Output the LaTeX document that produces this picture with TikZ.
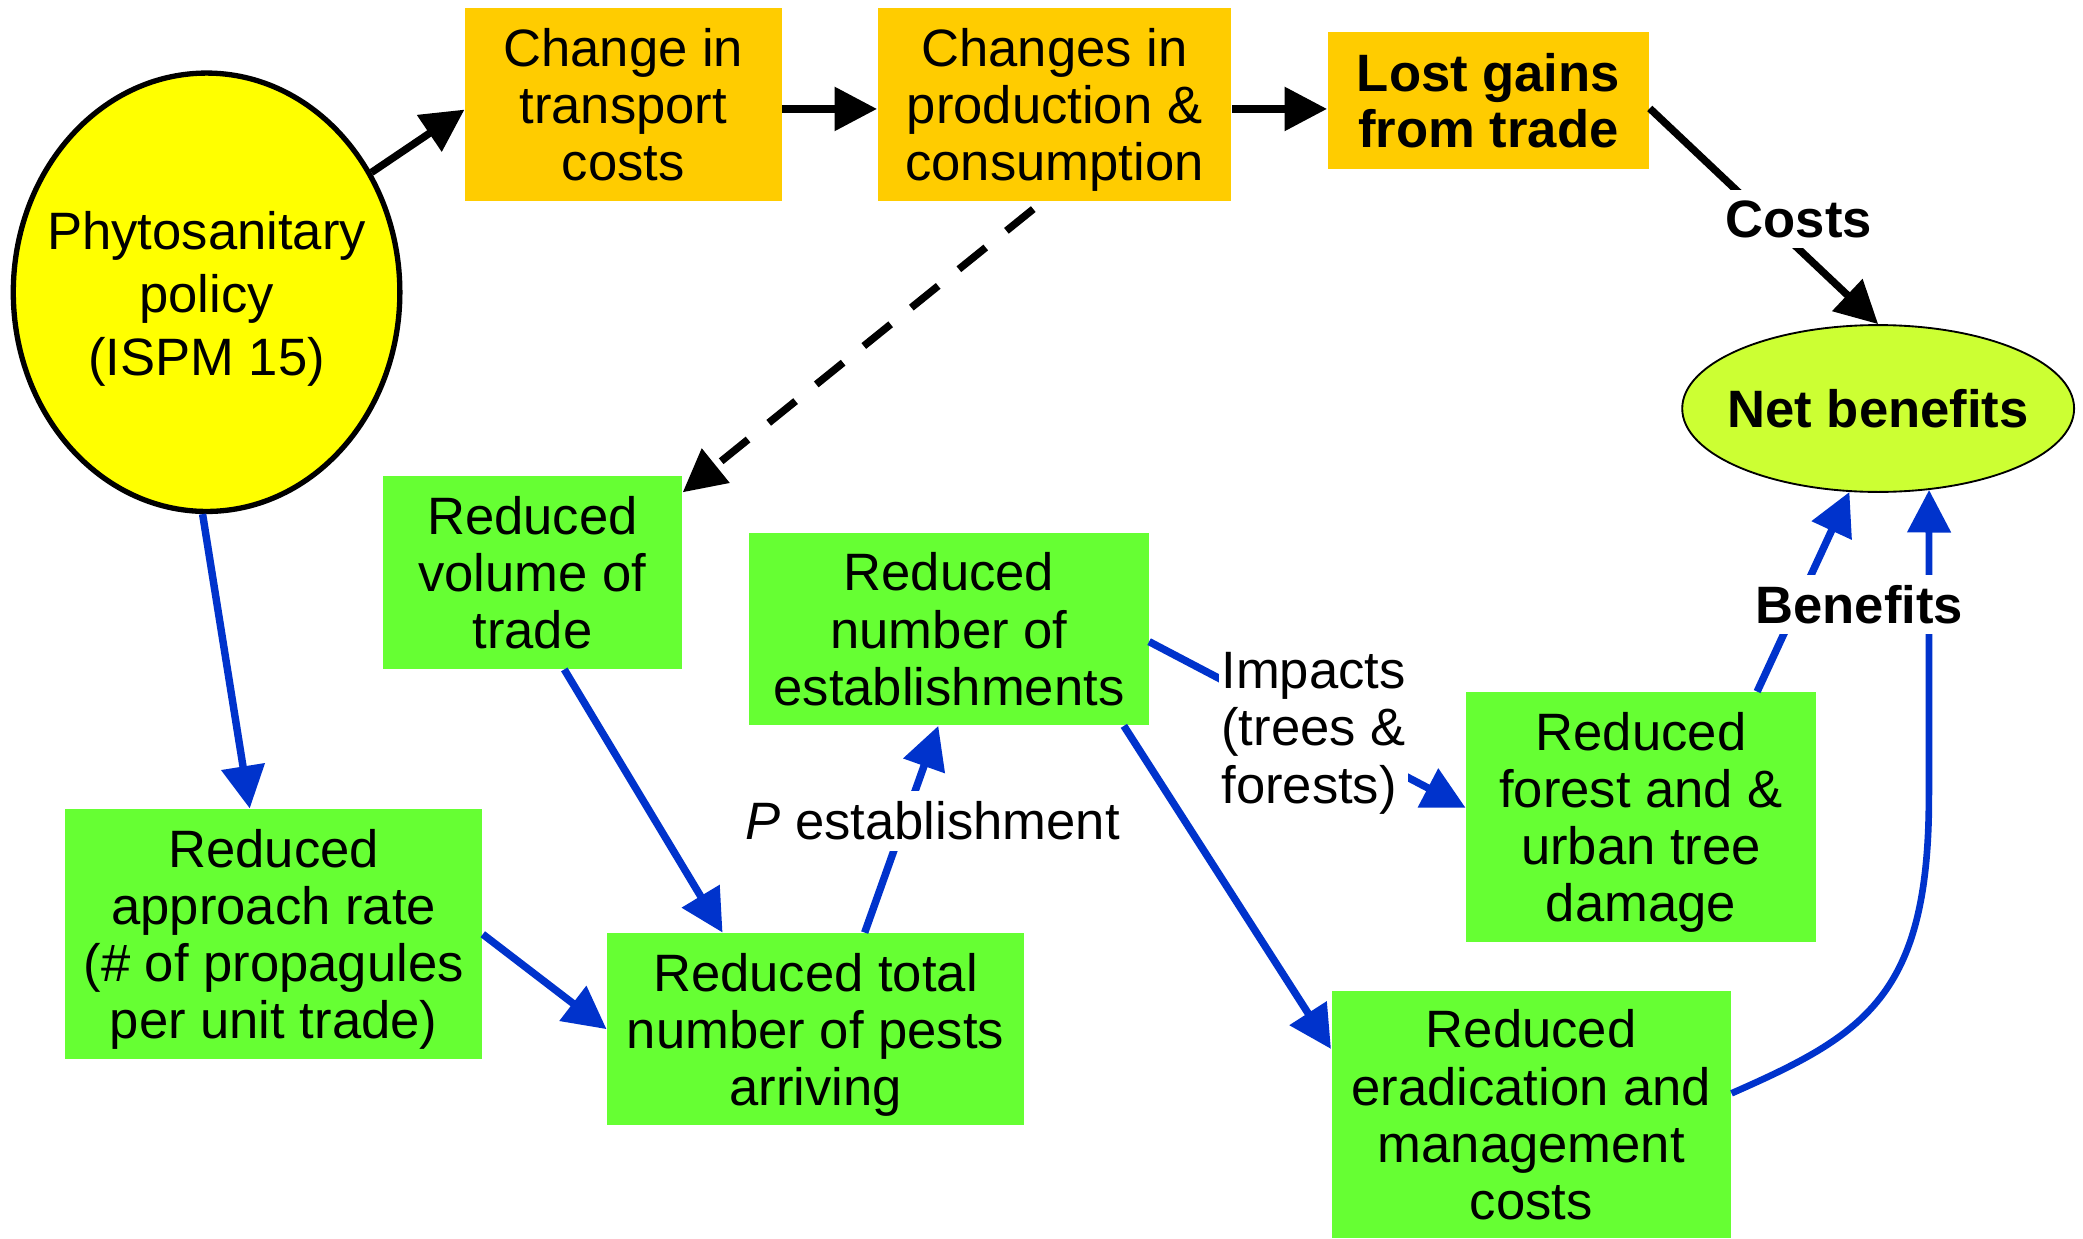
\documentclass[tikz,border=0pt]{standalone}
\usepackage{fontspec}
\setmainfont{Liberation Sans}
\usetikzlibrary{arrows.meta,shapes.geometric,calc}
\definecolor{boxorange}{HTML}{FFCC00}
\definecolor{boxgreen}{HTML}{66FF33}
\definecolor{policyyellow}{HTML}{FFFF00}
\definecolor{netlime}{HTML}{CCFF33}
\definecolor{linkblue}{HTML}{0033CC}
\newcommand{\txtfont}{\fontsize{19.8pt}{21.5pt}\selectfont}
\begin{document}
\begin{tikzpicture}[x=0.5pt,y=-0.5pt,
  every node/.style={font=\txtfont, inner sep=0pt, align=center},
  dims/.style 2 args={minimum width=#1*0.5pt, minimum height=#2*0.5pt},
  orangebox/.style={rectangle, fill=boxorange, text depth=0pt},
  greenbox/.style={rectangle, fill=boxgreen, text depth=0pt},
  blackarrow/.style={draw=black, line width=2.8pt, -{Triangle[length=16pt,width=16pt]}},
  bluearrow/.style={draw=linkblue, line width=2.8pt, -{Triangle[length=16pt,width=16pt]}},
  lbl/.style={fill=white, inner xsep=2pt, inner ysep=4pt}
]
\useasboundingbox (0,0) rectangle (1568,932);
\fill[white] (0,0) rectangle (1568,932);

% policy ellipse and its wording
\node[ellipse, draw=black, line width=2pt, fill=policyyellow, dims={291}{330}] (phyto) at (155.5,220) {};
\node[font=\fontsize{19.8pt}{23.75pt}\selectfont] (phytotext) at (155.5,225)
      {Phytosanitary\\policy\\(ISPM 15)};

% economic chain
\node[orangebox, dims={238.3}{145}] (trans) at (469.2,78.5) {Change in\\transport\\costs};
\node[orangebox, dims={266.4}{145}] (prod) at (793.8,78.5) {Changes in\\production \&\\consumption};
\node[orangebox, dims={242.1}{102.8}, font=\fontsize{19.8pt}{21pt}\selectfont\bfseries]
      (lost) at (1120.4,75.6) {Lost gains\\from trade};

% outcome ellipse
\node[ellipse, draw=black, line width=0.7pt, fill=netlime, dims={295}{125.6}] (net) at (1413.8,307.5) {};
\node[font=\txtfont\bfseries] (nettext) at (1413.8,308) {Net benefits};

% pest pathway
\node[greenbox, dims={225.5}{145.5}] (vol) at (400.75,430.75) {Reduced\\volume of\\trade};
\node[greenbox, dims={300.6}{145}] (est) at (714.3,473.5) {Reduced\\number of\\establishments};
\node[greenbox, dims={314}{188.5}] (appr) at (206,703.25) {Reduced\\approach rate\\(\# of propagules\\per unit trade)};
\node[greenbox, dims={313.8}{144.6}] (pests) at (613.9,774.7) {Reduced total\\number of pests\\arriving};
\node[greenbox, dims={263.4}{188}] (forest) at (1235.3,615) {Reduced\\forest and \&\\urban tree\\damage};
\node[greenbox, dims={300.7}{186}] (erad) at (1152.65,839) {Reduced\\eradication and\\management\\costs};

% black connectors
\draw[blackarrow] (phyto.36) -- ($(trans.west)+(0,4)$);
\draw[blackarrow] ($(trans.east)+(0,3.5)$) -- ($(prod.west)+(0,3.5)$);
\draw[blackarrow] ($(prod.east)+(0,3.5)$) -- ($(prod.east -| lost.west)+(0,3.5)$);
\draw[blackarrow] ($(lost.east)+(0,6)$) -- (net.north);
\draw[blackarrow, dash pattern=on 13pt off 10pt] ($(prod.south)+(-16,6)$) -- (vol.28);

% blue connectors
\draw[bluearrow] ($(phyto.south)+(-3,0)$) -- ($(appr.north)+(-18,0)$);
\draw[bluearrow] (appr.east) -- (pests.west);
\draw[bluearrow] ($(vol.south)+(24,0)$) -- ($(pests.north)+(-70,0)$);
\draw[bluearrow] ($(pests.north)+(37,0)$) -- ($(est.south)+(-8,0)$);
\draw[bluearrow] ($(est.east)+(0,9.5)$) -- ($(forest.west)+(0,-7)$);
\draw[bluearrow] ($(est.south east)+(-19,0)$) -- ($(erad.north west)+(0,44)$);
\draw[bluearrow] ($(forest.north)+(87.4,0)$) -- (net.-109);
\coordinate (bend) at (1452,600);
\draw[bluearrow, line width=2.5pt] ($(erad.east)+(0,-16)$) .. controls +(100,-44) and +(0,150) .. (bend) -- (net.-58);

% connector labels
\node[lbl, font=\txtfont\bfseries] (costs) at (1354,165) {Costs};
\node[lbl, font=\txtfont\bfseries] (benefits) at (1399.5,455) {Benefits};
\node[lbl] (pest) at (702,618) {\textit{P} establishment};
\node[lbl, align=left, anchor=west, inner xsep=1pt] (impacts) at (917,552) {Impacts\\(trees \&\\forests)};
\end{tikzpicture}
\end{document}
